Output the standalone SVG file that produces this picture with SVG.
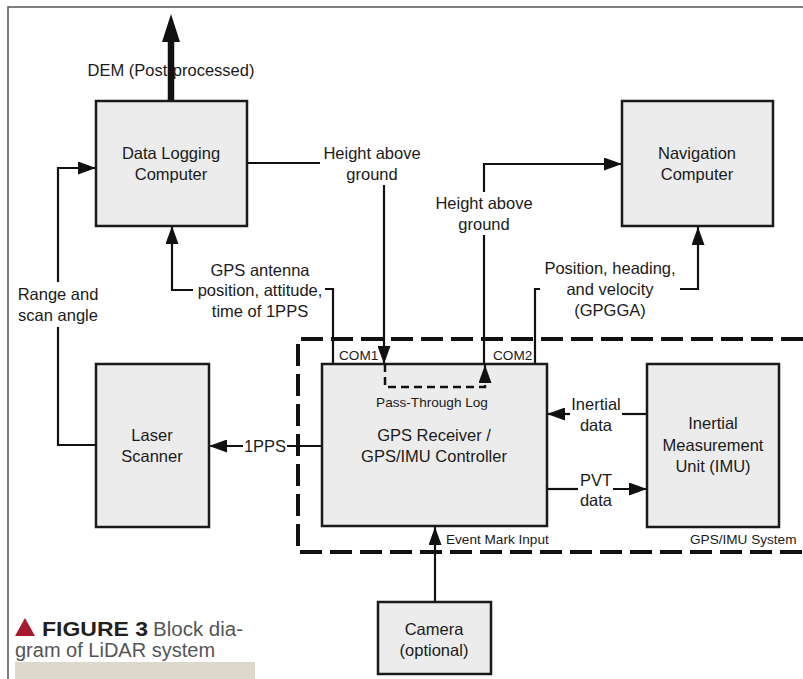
<svg xmlns="http://www.w3.org/2000/svg" width="803" height="679" viewBox="0 0 803 679">
<style>
.box{fill:#ececec;stroke:#1a1a1a;stroke-width:2.5}
.t{font-family:"Liberation Sans",Arial,sans-serif;font-size:16.5px;fill:#1a1a1a;text-anchor:middle}
.s{font-family:"Liberation Sans",Arial,sans-serif;font-size:13.6px;fill:#1a1a1a}
.ln{fill:none;stroke:#111;stroke-width:2.2}
</style>
<defs>
<marker id="ah" viewBox="0 0 18 13" refX="18" refY="6.5" markerWidth="18" markerHeight="13" markerUnits="userSpaceOnUse" orient="auto">
<path d="M0,0 L18,6.5 L0,13 z" fill="#111"/>
</marker>
</defs>
<rect width="803" height="679" fill="#fff"/>
<g id="frame">
<path d="M8,679 V7 H803" fill="none" stroke="#555" stroke-width="1.5"/>
</g>
<g id="system-boundary">
<path d="M803,339 H298 V552 H803" fill="none" stroke="#111" stroke-width="4" stroke-dasharray="22 8"/>
<text class="s" x="690" y="544">GPS/IMU System</text>
</g>
<g id="connectors">
<line x1="171" y1="101" x2="171" y2="40" stroke="#111" stroke-width="6.5"/>
<polygon points="171,14 162,42 180,42" fill="#111"/>
<path class="ln" d="M96,445 H58 V327"/>
<path class="ln" d="M58,282 V168 H96" marker-end="url(#ah)"/>
<path class="ln" d="M333,364 V289 H325"/>
<path class="ln" d="M193,290 H172 V226" marker-end="url(#ah)"/>
<path class="ln" d="M247,163 H320"/>
<path class="ln" d="M384,185 V364" marker-end="url(#ah)"/>
<path class="ln" d="M484,364 V235"/>
<path class="ln" d="M484,192 V164 H622" marker-end="url(#ah)"/>
<path class="ln" d="M535,364 V289 H540"/>
<path class="ln" d="M680,289 H698 V227" marker-end="url(#ah)"/>
<path class="ln" d="M322,446 H287"/>
<path class="ln" d="M243,446 H209" marker-end="url(#ah)"/>
<path class="ln" d="M647,414 H622"/>
<path class="ln" d="M570,414 H547" marker-end="url(#ah)"/>
<path class="ln" d="M547,489 H578"/>
<path class="ln" d="M613,489 H647" marker-end="url(#ah)"/>
<path class="ln" d="M435,602 V527" marker-end="url(#ah)"/>
<text class="t" x="171" y="76">DEM (Post-processed)</text>
<text class="t" x="58" y="300">Range and</text>
<text class="t" x="58" y="321">scan angle</text>
<text class="t" x="260" y="276">GPS antenna</text>
<text class="t" x="260" y="296">position, attitude,</text>
<text class="t" x="260" y="317">time of 1PPS</text>
<text class="t" x="372" y="159">Height above</text>
<text class="t" x="372" y="180">ground</text>
<text class="t" x="484" y="209">Height above</text>
<text class="t" x="484" y="230">ground</text>
<text class="t" x="610" y="274">Position, heading,</text>
<text class="t" x="610" y="295">and velocity</text>
<text class="t" x="610" y="316">(GPGGA)</text>
<text class="t" x="265" y="452">1PPS</text>
<text class="t" x="596" y="410">Inertial</text>
<text class="t" x="596" y="431">data</text>
<text class="t" x="596" y="486">PVT</text>
<text class="t" x="596" y="506">data</text>
<text class="s" x="446" y="544">Event Mark Input</text>
</g>
<g id="data-logging-computer">
<rect class="box" x="96" y="101" width="151" height="125"/>
<text class="t" x="171" y="159">Data Logging</text>
<text class="t" x="171" y="180">Computer</text>
</g>
<g id="navigation-computer">
<rect class="box" x="622" y="101" width="151" height="125"/>
<text class="t" x="697" y="159">Navigation</text>
<text class="t" x="697" y="180">Computer</text>
</g>
<g id="laser-scanner">
<rect class="box" x="96" y="364" width="113" height="163"/>
<text class="t" x="152" y="441">Laser</text>
<text class="t" x="152" y="462">Scanner</text>
</g>
<g id="gps-receiver">
<rect class="box" x="322" y="364" width="225" height="162"/>
<text class="s" x="339" y="360" font-size="13">COM1</text>
<text class="s" x="493" y="360" font-size="13">COM2</text>
<path d="M385,364 V387 H485 V380" fill="none" stroke="#111" stroke-width="2.5" stroke-dasharray="8 5"/>
<path class="ln" d="M485,382 V365" marker-end="url(#ah)"/>
<text class="s" x="432" y="407" text-anchor="middle">Pass-Through Log</text>
<text class="t" x="434" y="441">GPS Receiver /</text>
<text class="t" x="434" y="462">GPS/IMU Controller</text>
</g>
<g id="imu">
<rect class="box" x="647" y="364" width="132" height="163"/>
<text class="t" x="713" y="429">Inertial</text>
<text class="t" x="713" y="451">Measurement</text>
<text class="t" x="713" y="472">Unit (IMU)</text>
</g>
<g id="camera">
<rect class="box" x="378" y="602" width="113" height="72"/>
<text class="t" x="434" y="635">Camera</text>
<text class="t" x="434" y="656">(optional)</text>
</g>
<g id="caption">
<polygon points="15,636 25,618 35,636" fill="#a6192e"/>
<text x="42" y="636" font-family="'Liberation Sans',Arial,sans-serif" font-size="21" font-weight="bold" fill="#231f20" textLength="106" lengthAdjust="spacingAndGlyphs">FIGURE 3</text>
<text x="153" y="636" font-family="'Liberation Sans',Arial,sans-serif" font-size="20.5" fill="#555">Block dia-</text>
<text x="15" y="657" font-family="'Liberation Sans',Arial,sans-serif" font-size="20" fill="#555">gram of LiDAR system</text>
<rect x="15" y="662" width="240" height="17" fill="#ddd8cc"/>
</g>
</svg>
